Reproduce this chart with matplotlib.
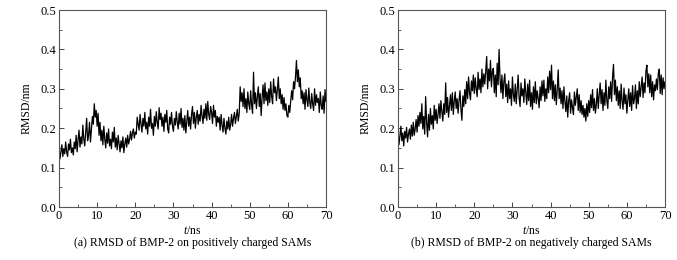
import numpy as np
import matplotlib
matplotlib.use("Agg")
import matplotlib.pyplot as plt
from matplotlib.ticker import MultipleLocator

# time step 0.25 ns, 0..70 ns
t_step = 0.25

rmsd_pos = [
    0.150, 0.122, 0.140, 0.158,
    0.128, 0.148, 0.135, 0.165,
    0.140, 0.128, 0.160, 0.145,
    0.172, 0.138, 0.150, 0.132,
    0.165, 0.148, 0.182, 0.140,
    0.170, 0.195, 0.152, 0.178,
    0.160, 0.208, 0.172, 0.155,
    0.190, 0.225, 0.168, 0.182,
    0.215, 0.165, 0.198, 0.230,
    0.210, 0.262, 0.228, 0.245,
    0.205, 0.238, 0.182, 0.215,
    0.168, 0.195, 0.158, 0.205,
    0.172, 0.150, 0.188, 0.162,
    0.198, 0.155, 0.172, 0.148,
    0.190, 0.165, 0.202, 0.152,
    0.175, 0.145, 0.182, 0.160,
    0.140, 0.168, 0.150, 0.178,
    0.138, 0.160, 0.175, 0.152,
    0.182, 0.160, 0.172, 0.192,
    0.170, 0.188, 0.198, 0.175,
    0.190, 0.185, 0.228, 0.210,
    0.195, 0.235, 0.210, 0.190,
    0.225, 0.205, 0.240, 0.198,
    0.215, 0.185, 0.228, 0.205,
    0.248, 0.200, 0.212, 0.182,
    0.230, 0.205, 0.242, 0.215,
    0.198, 0.252, 0.222, 0.238,
    0.205, 0.228, 0.192, 0.235,
    0.215, 0.245, 0.198, 0.188,
    0.228, 0.210, 0.240, 0.205,
    0.192, 0.225, 0.208, 0.242,
    0.215, 0.198, 0.238, 0.210,
    0.250, 0.202, 0.225, 0.195,
    0.232, 0.188, 0.215, 0.245,
    0.205, 0.228, 0.198, 0.235,
    0.255, 0.212, 0.240, 0.200,
    0.228, 0.245, 0.210, 0.235,
    0.218, 0.258, 0.232, 0.212,
    0.248, 0.225, 0.262, 0.220,
    0.268, 0.235, 0.222, 0.255,
    0.240, 0.212, 0.258, 0.228,
    0.245, 0.205, 0.230, 0.215,
    0.228, 0.195, 0.235, 0.208,
    0.190, 0.225, 0.200, 0.185,
    0.218, 0.198, 0.228, 0.195,
    0.210, 0.235, 0.205, 0.225,
    0.240, 0.212, 0.230, 0.248,
    0.218, 0.238, 0.305, 0.268,
    0.290, 0.255, 0.300, 0.250,
    0.275, 0.240, 0.292, 0.262,
    0.248, 0.295, 0.258, 0.238,
    0.342, 0.262, 0.290, 0.250,
    0.280, 0.305, 0.255, 0.288,
    0.232, 0.278, 0.310, 0.262,
    0.315, 0.270, 0.292, 0.258,
    0.300, 0.265, 0.318, 0.280,
    0.262, 0.325, 0.290, 0.305,
    0.270, 0.298, 0.330, 0.275,
    0.300, 0.262, 0.285, 0.248,
    0.278, 0.245, 0.262, 0.232,
    0.228, 0.258, 0.240, 0.270,
    0.295, 0.272, 0.318, 0.300,
    0.330, 0.372, 0.318, 0.348,
    0.305, 0.328, 0.275, 0.295,
    0.262, 0.290, 0.248, 0.298,
    0.272, 0.255, 0.302, 0.265,
    0.250, 0.288, 0.262, 0.245,
    0.300, 0.258, 0.285, 0.265,
    0.275, 0.240, 0.292, 0.258,
    0.248, 0.282, 0.238, 0.298,
    0.268,
]

rmsd_neg = [
    0.195, 0.158, 0.180, 0.205,
    0.168, 0.188, 0.155, 0.192,
    0.175, 0.202, 0.165, 0.185,
    0.198, 0.172, 0.208, 0.180,
    0.215, 0.182, 0.198, 0.222,
    0.190, 0.232, 0.205, 0.240,
    0.212, 0.262, 0.198, 0.230,
    0.185, 0.280, 0.215, 0.178,
    0.235, 0.195, 0.250, 0.210,
    0.232, 0.198, 0.258, 0.220,
    0.248, 0.212, 0.235, 0.262,
    0.225, 0.270, 0.242, 0.218,
    0.262, 0.235, 0.315, 0.240,
    0.278, 0.228, 0.258, 0.285,
    0.245, 0.290, 0.235, 0.268,
    0.292, 0.250, 0.275, 0.238,
    0.270, 0.295, 0.248, 0.220,
    0.282, 0.255, 0.298, 0.262,
    0.318, 0.275, 0.330, 0.290,
    0.272, 0.320, 0.295, 0.335,
    0.288, 0.328, 0.300, 0.280,
    0.342, 0.298, 0.325, 0.290,
    0.350, 0.305, 0.338, 0.312,
    0.345, 0.382, 0.300, 0.350,
    0.320, 0.372, 0.305, 0.345,
    0.352, 0.290, 0.335, 0.280,
    0.365, 0.310, 0.400, 0.325,
    0.290, 0.335, 0.275, 0.318,
    0.338, 0.280, 0.312, 0.265,
    0.320, 0.275, 0.300, 0.258,
    0.330, 0.285, 0.268, 0.312,
    0.262, 0.300, 0.335, 0.278,
    0.255, 0.315, 0.282, 0.300,
    0.265, 0.325, 0.290, 0.260,
    0.312, 0.270, 0.322, 0.255,
    0.290, 0.248, 0.305, 0.265,
    0.318, 0.262, 0.295, 0.275,
    0.252, 0.305, 0.270, 0.320,
    0.282, 0.322, 0.268, 0.300,
    0.275, 0.330, 0.290, 0.345,
    0.298, 0.360, 0.275, 0.320,
    0.270, 0.310, 0.260, 0.298,
    0.348, 0.275, 0.302, 0.262,
    0.295, 0.250, 0.305, 0.268,
    0.242, 0.282, 0.228, 0.270,
    0.290, 0.238, 0.272, 0.252,
    0.235, 0.292, 0.258, 0.278,
    0.300, 0.245, 0.285, 0.240,
    0.270, 0.235, 0.258, 0.228,
    0.250, 0.218, 0.262, 0.230,
    0.270, 0.240, 0.285, 0.252,
    0.298, 0.245, 0.275, 0.238,
    0.260, 0.300, 0.250, 0.285,
    0.315, 0.262, 0.298, 0.245,
    0.290, 0.258, 0.322, 0.270,
    0.250, 0.305, 0.275, 0.318,
    0.268, 0.330, 0.362, 0.285,
    0.322, 0.270, 0.305, 0.258,
    0.295, 0.250, 0.312, 0.268,
    0.248, 0.302, 0.262, 0.285,
    0.238, 0.272, 0.300, 0.255,
    0.290, 0.245, 0.308, 0.262,
    0.275, 0.310, 0.250, 0.295,
    0.262, 0.318, 0.280, 0.305,
    0.330, 0.278, 0.315, 0.290,
    0.345, 0.360, 0.305, 0.338,
    0.290, 0.335, 0.280, 0.318,
    0.272, 0.310, 0.295, 0.325,
    0.298, 0.340, 0.350, 0.288,
    0.335, 0.285, 0.328, 0.300,
    0.318,
]

captions = ["(a) RMSD of BMP-2 on positively charged SAMs",
            "(b) RMSD of BMP-2 on negatively charged SAMs"]
x_ticks = [0, 10, 20, 30, 40, 50, 60, 70]
y_ticks = [0.0, 0.1, 0.2, 0.3, 0.4, 0.5]

plt.rcParams['font.family'] = ['Liberation Serif', 'DejaVu Serif']
plt.rcParams['mathtext.fontset'] = 'custom'
plt.rcParams['mathtext.it'] = 'Liberation Serif:italic'
plt.rcParams['mathtext.rm'] = 'Liberation Serif'

fig = plt.figure(figsize=(6.77, 2.6), dpi=100)
W, H = 677, 260
lefts = [59, 398]
for i, (data, cap) in enumerate(zip([rmsd_pos, rmsd_neg], captions)):
    ax = fig.add_axes([lefts[i] / W, (H - 207) / H, 267 / W, 197 / H])
    t = np.arange(len(data)) * t_step
    ax.plot(t, data, color='black', linewidth=0.9)
    ax.set_xlim(0, 70)
    ax.set_ylim(0, 0.5)
    ax.set_xticks(x_ticks)
    ax.set_yticks(y_ticks)
    ax.set_yticklabels([f"{v:.1f}" for v in y_ticks])
    ax.xaxis.set_minor_locator(MultipleLocator(5))
    ax.yaxis.set_minor_locator(MultipleLocator(0.05))
    ax.tick_params(which='both', direction='in', top=False, right=False,
                   labelsize=9, color='#444444', pad=2)
    ax.tick_params(which='major', length=3.5, width=0.7)
    ax.tick_params(which='minor', length=2, width=0.6)
    for s in ax.spines.values():
        s.set_color('#555555')
        s.set_linewidth(0.8)
    ax.set_ylabel("RMSD/nm", fontsize=8.5, labelpad=6)
    ax.set_xlabel("$t$/ns", fontsize=8.5, labelpad=2)
    ax.text(0.5, -36 / 197, cap, transform=ax.transAxes, ha='center',
            va='center', fontsize=8.5)

fig.savefig("out.png", dpi=100)
